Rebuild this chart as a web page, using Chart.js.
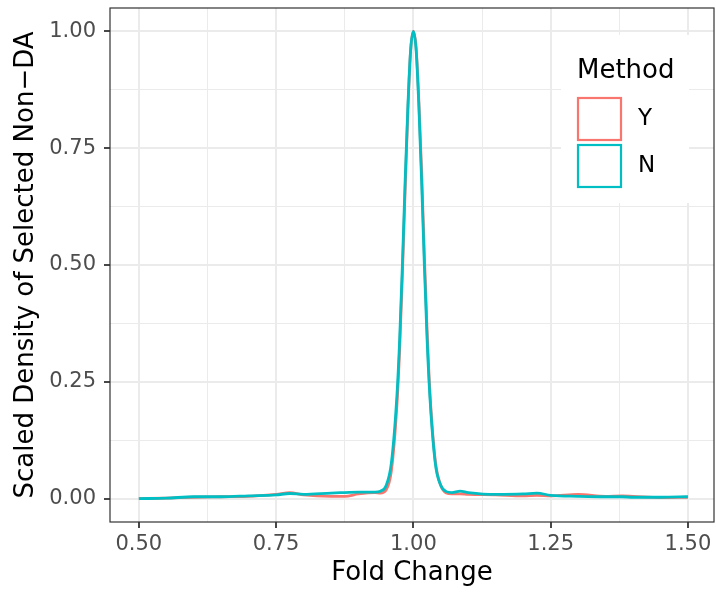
<!DOCTYPE html>
<html>
<head>
<meta charset="utf-8">
<script src="https://cdn.jsdelivr.net/npm/chart.js@4.4.1/dist/chart.umd.min.js"></script>
<style>
  html, body { margin: 0; padding: 0; background: #fff; }
  #wrap { width: 716px; height: 592px; }
</style>
</head>
<body>
<div id="wrap"><canvas id="density"></canvas></div>
<script>
// fold change grid (x) and scaled densities for each method
const foldChange = [0.50, 0.55, 0.60, 0.65, 0.70, 0.75, 0.775, 0.80, 0.85, 0.875, 0.90,
  0.93, 0.94, 0.95, 0.96, 0.97, 0.975, 0.98, 0.985, 0.99, 0.995, 1.00,
  1.005, 1.01, 1.015, 1.02, 1.025, 1.03, 1.04, 1.05, 1.06, 1.07, 1.085,
  1.10, 1.15, 1.20, 1.225, 1.25, 1.30, 1.35, 1.38, 1.40, 1.45, 1.50];
const densityY = [0.000, 0.001, 0.003, 0.004, 0.005, 0.009, 0.013, 0.008, 0.005, 0.005, 0.010,
  0.013, 0.012, 0.018, 0.060, 0.20, 0.32, 0.48, 0.66, 0.83, 0.96, 1.00,
  0.965, 0.85, 0.70, 0.52, 0.36, 0.23, 0.080, 0.028, 0.012, 0.010, 0.010,
  0.009, 0.008, 0.006, 0.007, 0.006, 0.009, 0.005, 0.006, 0.005, 0.002, 0.003];
const densityN = [0.000, 0.001, 0.004, 0.004, 0.006, 0.008, 0.011, 0.009, 0.012, 0.013, 0.014,
  0.014, 0.016, 0.027, 0.077, 0.22, 0.34, 0.50, 0.68, 0.84, 0.96, 1.00,
  0.96, 0.84, 0.68, 0.50, 0.34, 0.22, 0.075, 0.028, 0.015, 0.013, 0.016,
  0.013, 0.009, 0.010, 0.012, 0.007, 0.005, 0.004, 0.004, 0.003, 0.003, 0.004];
const methods = ["Y", "N"];
const methodColors = ["#F8766D", "#00BFC4"];

const xTicks = [0.5, 0.625, 0.75, 0.875, 1.0, 1.125, 1.25, 1.375, 1.5];
const yTicks = [0, 0.125, 0.25, 0.375, 0.5, 0.625, 0.75, 0.875, 1.0];
const isMajor = (v) => Math.abs(v * 4 - Math.round(v * 4)) < 1e-6;

const FONT = "'DejaVu Sans', sans-serif";

const toPoints = (ys) => foldChange.map((x, i) => ({ x: x, y: ys[i] }));

const panelBorder = {
  id: "panelBorder",
  afterDraw(chart) {
    const { ctx, chartArea: a } = chart;
    ctx.save();
    ctx.strokeStyle = "#333333";
    ctx.lineWidth = 1.2;
    ctx.strokeRect(a.left, a.top, a.right - a.left, a.bottom - a.top);
    ctx.restore();
  },
};

const insideLegend = {
  id: "insideLegend",
  afterDatasetsDraw(chart) {
    const ctx = chart.ctx;
    ctx.save();
    ctx.fillStyle = "#ffffff";
    ctx.fillRect(561, 35, 128, 168);
    ctx.fillStyle = "#000000";
    ctx.font = "26px " + FONT;
    ctx.textAlign = "left";
    ctx.textBaseline = "alphabetic";
    ctx.fillText("Method", 577, 78);
    ctx.font = "23px " + FONT;
    ctx.textBaseline = "middle";
    methods.forEach((m, i) => {
      const top = 98 + i * 47;
      ctx.strokeStyle = methodColors[i];
      ctx.lineWidth = 2.2;
      ctx.strokeRect(578, top, 43, 42);
      ctx.fillStyle = "#000000";
      ctx.fillText(m, 638, top + 21);
    });
    ctx.restore();
  },
};

new Chart(document.getElementById("density"), {
  type: "line",
  data: {
    datasets: [
      {
        label: methods[0],
        data: toPoints(densityY),
        borderColor: methodColors[0],
        borderWidth: 2.8,
        pointRadius: 0,
        cubicInterpolationMode: "monotone",
        order: 1,
      },
      {
        label: methods[1],
        data: toPoints(densityN),
        borderColor: methodColors[1],
        borderWidth: 2.8,
        pointRadius: 0,
        cubicInterpolationMode: "monotone",
        order: 0,
      },
    ],
  },
  options: {
    responsive: true,
    maintainAspectRatio: false,
    animation: false,
    layout: { padding: { top: 8, right: 2, left: 0, bottom: 0 } },
    plugins: { legend: { display: false }, tooltip: { enabled: false } },
    scales: {
      x: {
        type: "linear",
        min: 0.4475,
        max: 1.5475,
        afterBuildTicks: (s) => { s.ticks = xTicks.map((v) => ({ value: v })); },
        afterFit: (s) => { s.height = 70; s.paddingLeft = 0; s.paddingRight = 0; },
        border: { display: false },
        grid: {
          color: "#EBEBEB",
          lineWidth: (c) => (isMajor(c.tick.value) ? 2 : 1),
          tickLength: 6,
          tickColor: (c) => (isMajor(c.tick.value) ? "#333333" : "rgba(0,0,0,0)"),
          tickWidth: 1.8,
        },
        ticks: {
          autoSkip: false,
          maxRotation: 0,
          padding: 4,
          color: "#4D4D4D",
          font: { family: FONT, size: 21 },
          callback: (v) => (isMajor(v) ? v.toFixed(2) : ""),
        },
        title: {
          display: true,
          text: "Fold Change",
          color: "#000000",
          font: { family: FONT, size: 26 },
          padding: { top: 0, bottom: 3 },
        },
      },
      y: {
        type: "linear",
        min: -0.05,
        max: 1.05,
        afterBuildTicks: (s) => { s.ticks = yTicks.map((v) => ({ value: v })); },
        afterFit: (s) => { s.width = 110; s.paddingTop = 0; s.paddingBottom = 0; },
        border: { display: false },
        grid: {
          color: "#EBEBEB",
          lineWidth: (c) => (isMajor(c.tick.value) ? 2 : 1),
          tickLength: 6,
          tickColor: (c) => (isMajor(c.tick.value) ? "#333333" : "rgba(0,0,0,0)"),
          tickWidth: 1.8,
        },
        ticks: {
          autoSkip: false,
          padding: 8,
          color: "#4D4D4D",
          font: { family: FONT, size: 21 },
          callback: (v) => (isMajor(v) ? v.toFixed(2) : ""),
        },
        title: {
          display: true,
          text: "Scaled Density of Selected Non\u2212DA",
          color: "#000000",
          font: { family: FONT, size: 26 },
          padding: { top: 11, bottom: 0 },
        },
      },
    },
  },
  plugins: [panelBorder, insideLegend],
});
</script>
</body>
</html>
